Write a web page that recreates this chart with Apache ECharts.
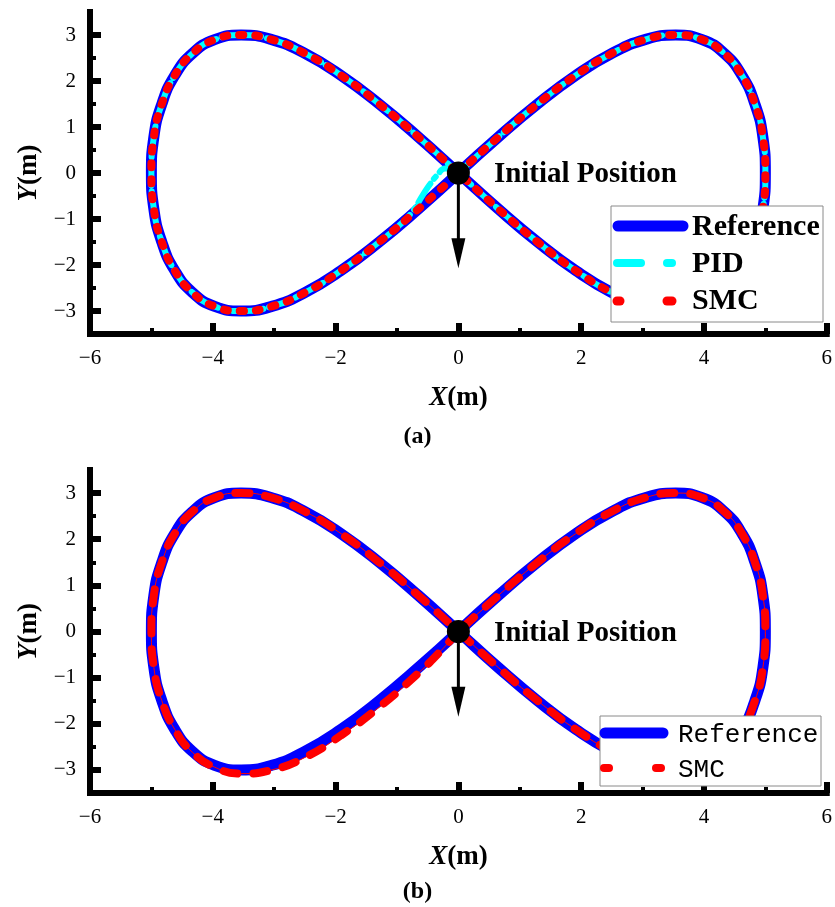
<!DOCTYPE html>
<html>
<head>
<meta charset="utf-8">
<script src="https://cdn.jsdelivr.net/npm/echarts@6/dist/echarts.min.js"></script>
<style>
  html, body { margin: 0; padding: 0; background: #fff; }
  #chart { width: 835px; height: 907px; }
</style>
</head>
<body>
<div id="chart"></div>
<script>
// Desired figure-eight path, X and Y in metres
const refX = [0, 0.65, 1.29, 1.91, 2.50, 3.04, 3.54, 3.97, 4.33, 4.62, 4.83, 4.96, 5.00,
  4.96, 4.83, 4.62, 4.33, 3.97, 3.54, 3.04, 2.50, 1.91, 1.29, 0.65, 0,
  -0.65, -1.29, -1.91, -2.50, -3.04, -3.54, -3.97, -4.33, -4.62, -4.83, -4.96, -5.00,
  -4.96, -4.83, -4.62, -4.33, -3.97, -3.54, -3.04, -2.50, -1.91, -1.29, -0.65, 0];
const refY = [0, 0.78, 1.50, 2.12, 2.60, 2.90, 3.00, 2.90, 2.60, 2.12, 1.50, 0.78, 0,
  -0.78, -1.50, -2.12, -2.60, -2.90, -3.00, -2.90, -2.60, -2.12, -1.50, -0.78, 0,
  0.78, 1.50, 2.12, 2.60, 2.90, 3.00, 2.90, 2.60, 2.12, 1.50, 0.78, 0,
  -0.78, -1.50, -2.12, -2.60, -2.90, -3.00, -2.90, -2.60, -2.12, -1.50, -0.78, 0];

// PID tracking run (a): small start-up deviation near the origin
const pidX = [0, -0.10, -0.22, -0.34, -0.46, -0.58, -0.76, -0.98,
  -1.29, -1.91, -2.50, -3.04, -3.54, -3.97, -4.33, -4.62, -4.83, -4.96, -5.00,
  -4.96, -4.83, -4.62, -4.33, -3.97, -3.54, -3.04, -2.50, -1.91, -1.29, -0.65, 0,
  0.65, 1.29, 1.91, 2.50, 3.04, 3.54, 3.97, 4.33, 4.62, 4.83, 4.96, 5.00,
  4.96, 4.83, 4.62, 4.33, 3.97, 3.54, 3.04, 2.50, 1.91, 1.29, 0.65, 0];
const pidY = [0, 0.10, 0.10, -0.04, -0.24, -0.48, -0.86, -1.16,
  -1.50, -2.12, -2.60, -2.90, -3.00, -2.90, -2.60, -2.12, -1.50, -0.78, 0,
  0.78, 1.50, 2.12, 2.60, 2.90, 3.00, 2.90, 2.60, 2.12, 1.50, 0.78, 0,
  -0.78, -1.50, -2.12, -2.60, -2.90, -3.00, -2.90, -2.60, -2.12, -1.50, -0.78, 0,
  0.78, 1.50, 2.12, 2.60, 2.90, 3.00, 2.90, 2.60, 2.12, 1.50, 0.78, 0];

// SMC tracking run (a): follows the desired path
const smcAX = refX;
const smcAY = refY;

// SMC tracking run (b): slight offset along the lower-left branch
const smcBX = [0, -0.30, -0.65, -1.29, -1.91, -2.50, -3.04, -3.54, -3.97, -4.33, -4.62, -4.83, -4.96, -5.00,
  -4.96, -4.83, -4.62, -4.33, -3.97, -3.54, -3.04, -2.50, -1.91, -1.29, -0.65, 0,
  0.65, 1.29, 1.91, 2.50, 3.04, 3.54, 3.97, 4.33, 4.62, 4.83, 4.96, 5.00,
  4.96, 4.83, 4.62, 4.33, 3.97, 3.54, 3.04, 2.50, 1.91, 1.29, 0.65, 0];
const smcBY = [0, -0.44, -0.90, -1.64, -2.25, -2.73, -3.00, -3.08, -2.94, -2.62, -2.12, -1.50, -0.78, 0,
  0.78, 1.50, 2.12, 2.60, 2.90, 3.00, 2.90, 2.60, 2.12, 1.50, 0.78, 0,
  -0.78, -1.50, -2.12, -2.60, -2.90, -3.00, -2.90, -2.60, -2.12, -1.50, -0.78, 0,
  0.78, 1.50, 2.12, 2.60, 2.90, 3.00, 2.90, 2.60, 2.12, 1.50, 0.78, 0];

// Start point and initial heading arrow (tip Y per panel)
const startPoint = [0, 0];
const headingTipA = -2.07;
const headingTipB = -1.85;

// Axis ticks
const xTicks = [-6, -4, -2, 0, 2, 4, 6];
const xMinorTicks = [-5, -3, -1, 1, 3, 5];
const yTicks = [-3, -2, -1, 0, 1, 2, 3];
const yMinorTicks = [-2.5, -1.5, -0.5, 0.5, 1.5, 2.5];

const SERIF = '"Liberation Serif", "Times New Roman", serif';
const MONO = '"Liberation Mono", "Courier New", monospace';
const BLUE = '#0000ff', CYAN = '#00ffff', RED = '#ff0000';

const zip = (xs, ys) => xs.map((x, i) => [x, ys[i]]);
const fmt = v => (v < 0 ? '\u2212' + Math.abs(v) : String(v));

const nameRich = {
  i: { fontFamily: SERIF, fontSize: 27, fontWeight: 'bold', fontStyle: 'italic', color: '#000' },
  b: { fontFamily: SERIF, fontSize: 27, fontWeight: 'bold', color: '#000' }
};

function xAxesFor(gi) {
  return [{
    type: 'value', gridIndex: gi, position: 'bottom', min: -6, max: 6, interval: 2,
    axisLine: { show: true, onZero: false, lineStyle: { color: '#000', width: 6, cap: 'square' } },
    axisTick: { show: true, inside: true, length: 11, customValues: xTicks, lineStyle: { color: '#000', width: 6 } },
    axisLabel: { color: '#000', fontFamily: SERIF, fontSize: 21, margin: 14, customValues: xTicks, formatter: fmt },
    splitLine: { show: false },
    name: '{i|X}{b|(m)}', nameLocation: 'middle', nameGap: 51,
    nameTextStyle: { rich: nameRich }
  }, {
    type: 'value', gridIndex: gi, position: 'bottom', offset: 0, min: -6, max: 6, interval: 2,
    axisLine: { show: false, onZero: false },
    axisTick: { show: true, inside: true, length: 6, customValues: xMinorTicks, lineStyle: { color: '#000', width: 4 } },
    axisLabel: { show: false },
    splitLine: { show: false }
  }];
}

function yAxesFor(gi) {
  return [{
    type: 'value', gridIndex: gi, position: 'left', min: -3.5, max: 3.5,
    axisLine: { show: true, onZero: false, lineStyle: { color: '#000', width: 6, cap: 'square' } },
    axisTick: { show: true, inside: true, length: 11, customValues: yTicks, lineStyle: { color: '#000', width: 6 } },
    axisLabel: { color: '#000', fontFamily: SERIF, fontSize: 21, margin: 14, customValues: yTicks, formatter: fmt },
    splitLine: { show: false },
    name: '{i|Y}{b|(m)}', nameLocation: 'middle', nameGap: 46, nameRotate: 90,
    nameTextStyle: { rich: nameRich }
  }, {
    type: 'value', gridIndex: gi, position: 'left', offset: 0, min: -3.5, max: 3.5,
    axisLine: { show: false, onZero: false },
    axisTick: { show: true, inside: true, length: 6, customValues: yMinorTicks, lineStyle: { color: '#000', width: 4 } },
    axisLabel: { show: false },
    splitLine: { show: false }
  }];
}

function startMarks(xi, yi, tipY) {
  return [{
    type: 'line', xAxisIndex: xi, yAxisIndex: yi, silent: true,
    data: [startPoint, [0, tipY + 0.35]],
    symbol: 'none', lineStyle: { color: '#000', width: 3, opacity: 1 }, z: 5
  }, {
    type: 'scatter', xAxisIndex: xi, yAxisIndex: yi, silent: true,
    data: [[0, tipY]], symbol: 'triangle', symbolRotate: 180, symbolSize: [14, 30], symbolOffset: [0, -15],
    itemStyle: { color: '#000', opacity: 1 }, z: 5
  }, {
    type: 'scatter', xAxisIndex: xi, yAxisIndex: yi, silent: true,
    data: [startPoint], symbol: 'circle', symbolSize: 23,
    itemStyle: { color: '#000', opacity: 1 }, z: 6,
    label: {
      show: true, position: 'right', distance: 24, offset: [0, 2], formatter: 'Initial Position',
      color: '#000', opacity: 1, fontFamily: SERIF, fontSize: 29, fontWeight: 'bold'
    }
  }];
}

function pathSeries(name, xi, yi, data, lineStyle, z) {
  return {
    name, type: 'line', xAxisIndex: xi, yAxisIndex: yi, data,
    smooth: true, symbol: 'none', silent: true, lineStyle, z
  };
}

const series = [
  pathSeries('Reference', 0, 0, zip(refX, refY), { color: BLUE, width: 11 }, 2),
  pathSeries('PID', 0, 0, zip(pidX, pidY), { color: CYAN, width: 6, type: [22, 6, 3, 6], cap: 'round' }, 3),
  pathSeries('SMC', 0, 0, zip(smcAX, smcAY), { color: RED, width: 8, type: [4, 12], cap: 'round' }, 4),
  ...startMarks(0, 0, headingTipA),
  pathSeries('Reference', 2, 2, zip(refX, refY), { color: BLUE, width: 11 }, 2),
  pathSeries('SMC trace', 2, 2, zip(smcBX, smcBY), { color: RED, width: 1 }, 3),
  pathSeries('SMC', 2, 2, zip(smcBX, smcBY), { color: RED, width: 8, type: [14, 16], cap: 'round' }, 4),
  ...startMarks(2, 2, headingTipB)
];

// Legend boxes drawn on top of the plot area
function legendA() {
  const z = 100;
  const txt = (t, y) => ({ type: 'text', z, x: 692, y, style: { text: t, fill: '#000', font: 'bold 30px ' + SERIF, textVerticalAlign: 'middle' } });
  const seg = (x1, x2, y, color, w) => ({ type: 'line', z, shape: { x1, y1: y, x2, y2: y }, style: { stroke: color, lineWidth: w, lineCap: 'round' } });
  return [
    { type: 'rect', z, shape: { x: 611, y: 206, width: 212, height: 116 }, style: { fill: '#fff', stroke: '#8a8a8a', lineWidth: 1 } },
    seg(618, 683, 226, BLUE, 11),
    seg(617, 641, 263, CYAN, 8), seg(667, 672, 263, CYAN, 8),
    seg(617, 620, 301, RED, 9), seg(667, 672, 301, RED, 9),
    txt('Reference', 227), txt('PID', 264), txt('SMC', 301)
  ];
}
function legendB() {
  const z = 100;
  const txt = (t, y) => ({ type: 'text', z, x: 678, y, style: { text: t, fill: '#000', font: '26px ' + MONO, textVerticalAlign: 'middle' } });
  const seg = (x1, x2, y, color, w) => ({ type: 'line', z, shape: { x1, y1: y, x2, y2: y }, style: { stroke: color, lineWidth: w, lineCap: 'round' } });
  return [
    { type: 'rect', z, shape: { x: 600, y: 716, width: 221, height: 70 }, style: { fill: '#fff', stroke: '#8a8a8a', lineWidth: 1 } },
    seg(605, 663, 733, BLUE, 11),
    seg(604, 609, 768, RED, 8), seg(656, 661, 768, RED, 8),
    txt('Reference', 735), txt('SMC', 770)
  ];
}

const panelRich = {
  p: { fontFamily: SERIF, fontSize: 24, color: '#000' },
  b: { fontFamily: SERIF, fontSize: 24, fontWeight: 'bold', color: '#000' }
};

const option = {
  backgroundColor: '#fff',
  animation: false,
  title: [
    { text: '{p|(}{b|a}{p|)}', left: 'center', top: 425, padding: 0, textStyle: { rich: panelRich } },
    { text: '{p|(}{b|b}{p|)}', left: 'center', top: 880, padding: 0, textStyle: { rich: panelRich } }
  ],
  grid: [
    { left: 90, right: 6, top: 12, height: 322 },
    { left: 90, right: 6, top: 470, height: 323 }
  ],
  xAxis: [...xAxesFor(0), ...xAxesFor(1)],
  yAxis: [...yAxesFor(0), ...yAxesFor(1)],
  series,
  graphic: [...legendA(), ...legendB()]
};

const chart = echarts.init(document.getElementById('chart'), null, { renderer: 'canvas' });
chart.setOption(option);
</script>
</body>
</html>
